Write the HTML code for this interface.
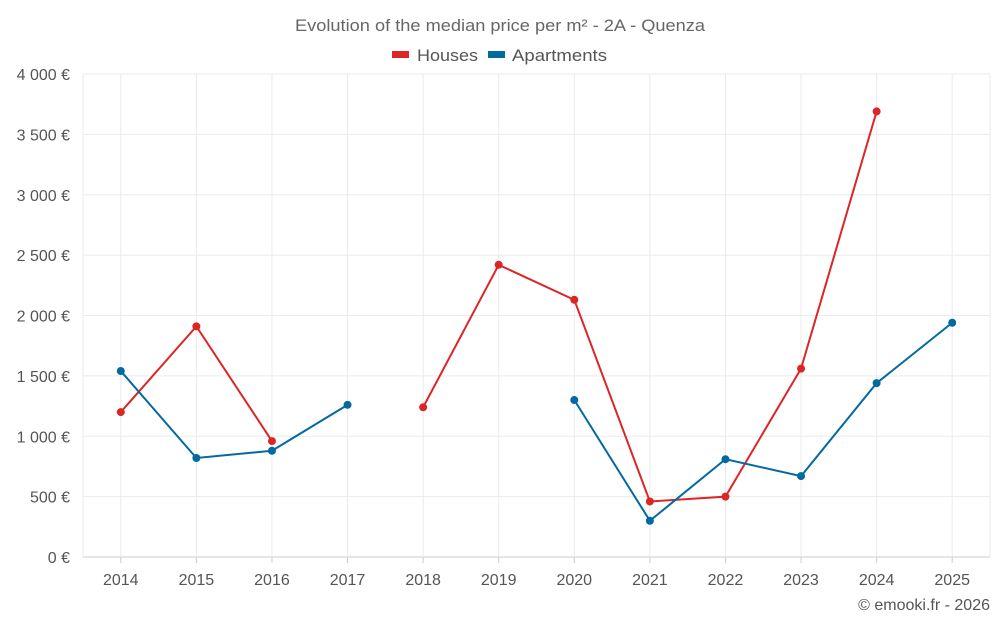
<!DOCTYPE html>
<html><head><meta charset="utf-8"><style>
body{margin:0;background:#fff;font-family:"Liberation Sans",Roboto,sans-serif}
svg text{font-family:"Liberation Sans",sans-serif}
</style></head><body>
<svg id="c" width="1000" height="625">
<text x="295" y="31" textLength="410" lengthAdjust="spacingAndGlyphs" font-size="17" fill="#666">Evolution of the median price per m² - 2A - Quenza</text>
<g>
<g><rect x="392" y="51" width="17" height="7" fill="#dc2626"/><text x="417" y="61" textLength="61" lengthAdjust="spacingAndGlyphs" font-size="17" fill="#555">Houses</text></g>
<g><rect x="488" y="51" width="17" height="7" fill="#0369a1"/><text x="512" y="61" textLength="95" lengthAdjust="spacingAndGlyphs" font-size="17" fill="#555">Apartments</text></g>
</g>
<g id="grid"></g><g id="axes"></g><g id="series"></g>
<text x="990" y="610" text-anchor="end" font-size="16" fill="#555">© emooki.fr - 2026</text>
</svg>
<script>
const categories=["2014","2015","2016","2017","2018","2019","2020","2021","2022","2023","2024","2025"];
const houses=[1200,1910,960,null,1240,2420,2130,460,500,1560,3690,null];
const apartments=[1540,820,880,1260,null,null,1300,300,810,670,1440,1940];
const yTicks=[0,500,1000,1500,2000,2500,3000,3500,4000];
const yLabels=["0 €","500 €","1 000 €","1 500 €","2 000 €","2 500 €","3 000 €","3 500 €","4 000 €"];
const L=83,R=990,T=74,B=557,ns="http://www.w3.org/2000/svg";
const bw=(R-L)/categories.length;
const x=i=>L+bw*(i+0.5), y=v=>B-(v/4000)*(B-T);
function mk(t,a,p){const e=document.createElementNS(ns,t);for(const k in a)e.setAttribute(k,a[k]);p.appendChild(e);return e;}
const g=document.getElementById('grid'),ax=document.getElementById('axes'),s=document.getElementById('series');
yTicks.forEach((v,i)=>{
 const l=mk('line',{x1:L,x2:R,y1:y(v),y2:y(v),stroke:i==0?'#ccc':'#ebebeb'},g);
 
 
 const t=mk('text',{x:70,y:y(v)+6,'text-anchor':'end','font-size':16,fill:'#555'},ax);t.textContent=yLabels[i];
 
 
});
mk('line',{x1:L,x2:L,y1:T,y2:B,stroke:'#ebebeb'},g);
mk('line',{x1:R,x2:R,y1:T,y2:B,stroke:'#ebebeb'},g);
categories.forEach((c,i)=>{
 const l=mk('line',{x1:x(i),x2:x(i),y1:T,y2:B,stroke:'#ebebeb'},g);
 
 
 mk('line',{x1:x(i),x2:x(i),y1:B,y2:B+6,stroke:'#ccc'},ax);
 const t=mk('text',{x:x(i),y:585,'text-anchor':'middle','font-size':16,fill:'#555'},ax);t.textContent=c;
 
 
});
function draw(data,color,name){
 let d='',pen=false;
 data.forEach((v,i)=>{if(v==null){pen=false;return;}d+=(pen?'L':'M')+x(i)+' '+y(v)+' ';pen=true;});
 const p=mk('path',{d:d,fill:'none',stroke:color,'stroke-width':2},s);
 
 
 data.forEach((v,i)=>{if(v==null)return;
  const c=mk('circle',{cx:x(i),cy:y(v),r:4,fill:color},s);
  
  
 });
}
draw(houses,'#dc2626','houses');
draw(apartments,'#0369a1','apartments');
</script>
</body></html>
